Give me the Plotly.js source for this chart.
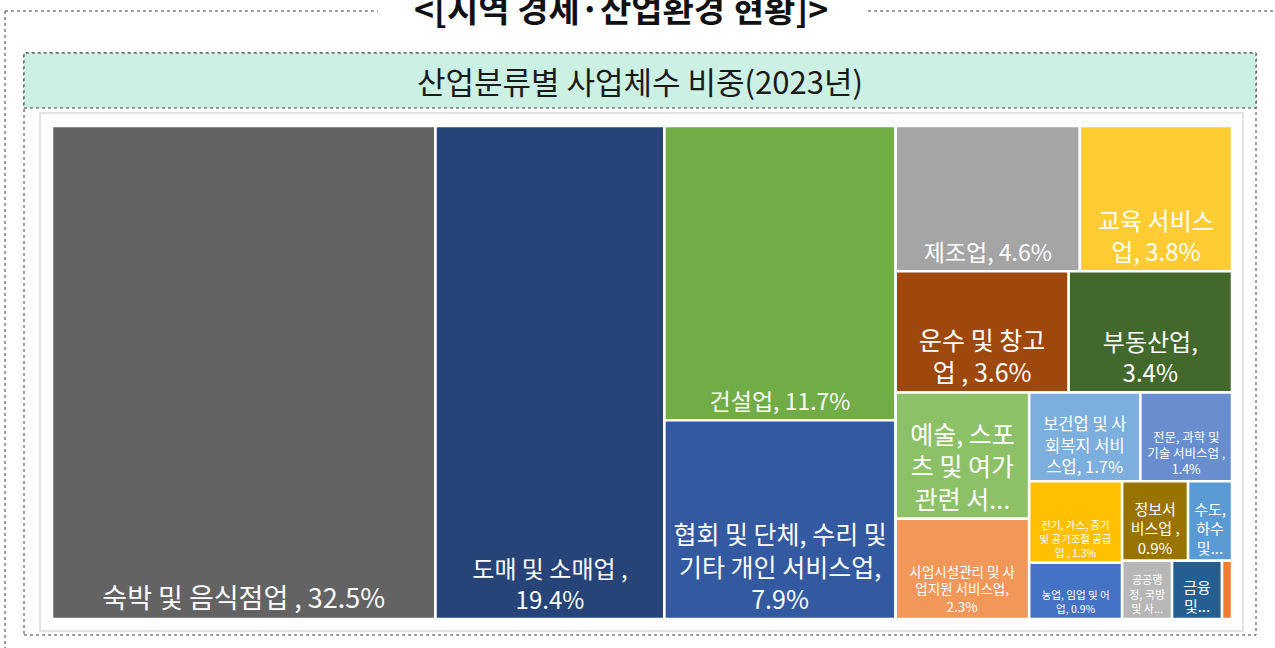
<!DOCTYPE html>
<html>
<head>
<meta charset="utf-8">
<script src="https://cdn.plot.ly/plotly-3.0.1.min.js"></script>
<style>
html,body{margin:0;padding:0;background:#fff;}
#chart{width:1275px;height:648px;}
</style>
</head>
<body>
<div id="chart"></div>
<script>
// ---------------- data ----------------
const categories = [
  "숙박 및 음식점업",
  "도매 및 소매업",
  "건설업",
  "협회 및 단체, 수리 및 기타 개인 서비스업",
  "제조업",
  "교육 서비스업",
  "운수 및 창고업",
  "부동산업",
  "예술, 스포츠 및 여가관련 서비스업",
  "사업시설관리 및 사업지원 서비스업",
  "보건업 및 사회복지 서비스업",
  "전문, 과학 및 기술 서비스업",
  "전기, 가스, 증기 및 공기조절 공급업",
  "정보서비스업",
  "수도, 하수 및 폐기물 처리, 원료 재생업",
  "농업, 임업 및 어업",
  "공공행정, 국방 및 사회보장 행정",
  "금융 및 보험업",
  "광업"
];
const shares = [32.5, 19.4, 11.7, 7.9, 4.6, 3.8, 3.6, 3.4, 2.9, 2.3, 1.7, 1.4, 1.3, 0.9, 0.6, 0.9, 0.5, 0.5, 0.1];

// label text as shown in the picture ({v} = share)
const shownLabels = [
  "숙박 및 음식점업 , {v}%",
  "도매 및 소매업 ,<br>{v}%",
  "건설업, {v}%",
  "협회 및 단체, 수리 및<br>기타 개인 서비스업,<br>{v}%",
  "제조업, {v}%",
  "교육 서비스<br>업, {v}%",
  "운수 및 창고<br>업 , {v}%",
  "부동산업,<br>{v}%",
  "예술, 스포<br>츠 및 여가<br>관련 서...",
  "사업시설관리 및 사<br>업지원 서비스업,<br>{v}%",
  "보건업 및 사<br>회복지 서비<br>스업, {v}%",
  "전문, 과학 및<br>기술 서비스업 ,<br>{v}%",
  "전기, 가스, 증기<br>및 공기조절 공급<br>업 , {v}%",
  "정보서<br>비스업 ,<br>{v}%",
  "수도,<br>하수<br>및...",
  "농업, 임업 및 어<br>업, {v}%",
  "공공행<br>정, 국방<br>및 사...",
  "금융<br>및...",
  ""
];

const chartTitle = "&lt;[지역 경제·산업환경 현황]&gt;";
const chartSubtitle = "산업분류별 사업체수 비중(2023년)";

// ---------------- styles ----------------
const cellColors = ["#636363","#264478","#70AD47","#335AA0","#A5A5A5","#FFCC33","#9E480E","#43682B",
  "#8CC168","#F1975A","#7CAFDD","#698ED0","#FFC000","#997300","#5B9BD5","#4472C4","#B7B7B7","#255E91","#ED7D31"];
const labelSizes = [27, 24, 23, 25, 23, 24, 25, 24, 25, 13.5, 16.5, 12.5, 10.5, 15, 15, 10.5, 11, 15, 8];

// ---------------- tile arrangement (Excel-like row/column grouping) ----------------
const cellGroup = ["", "", "G1", "G1", "R1", "R1", "R2", "R2", "C1", "C1", "H1", "H1", "E1", "F1", "F1", "E1", "F2", "F2", "F2"];
const groupIds = ["G1", "G2", "R1", "R2", "R3", "C1", "C2", "H1", "H2", "E1", "E2", "F1", "F2"];
const groupParents = ["", "", "G2", "G2", "G2", "R3", "R3", "C2", "C2", "H2", "H2", "E2", "E2"];

// ---------------- build ----------------
const W = 1275, H = 648;
const px = x => x / W;
const py = y => 1 - y / H;

const ids = categories.concat(groupIds);
const labels = categories.concat(groupIds);
const parents = cellGroup.concat(groupParents);
const values = shares.concat(groupIds.map(() => 0));
const texts = shownLabels.map((t, i) => t.replace("{v}", shares[i].toFixed(1))).concat(groupIds.map(() => ""));
const colors = cellColors.concat(groupIds.map(() => "rgba(0,0,0,0)"));
const sizes = labelSizes.concat(groupIds.map(() => 10));

const trace = {
  type: "treemap",
  ids: ids,
  labels: labels,
  parents: parents,
  values: values,
  branchvalues: "remainder",
  sort: false,
  text: texts,
  textinfo: "text",
  textposition: "bottom center",
  textfont: {family: "Noto Sans CJK KR, sans-serif", color: "#FFFFFF", size: sizes},
  hoverinfo: "none",
  marker: {
    colors: colors,
    line: {color: "#FFFFFF", width: 2.5},
    pad: {t: 0, l: 0, r: 0, b: 0},
    depthfade: false
  },
  leaf: {opacity: 1},
  tiling: {packing: "slice-dice", pad: 0},
  pathbar: {visible: false},
  domain: {x: [px(52), px(1232)], y: [py(619), py(126)]}
};

const dotLine = {color: "#404040", width: 1, dash: "dot"};
const layout = {
  width: W, height: H,
  margin: {l: 0, r: 0, t: 0, b: 0},
  paper_bgcolor: "#FFFFFF",
  showlegend: false,
  font: {family: "Noto Sans CJK KR, sans-serif"},
  shapes: [
    // outer frame
    {type: "line", xref: "paper", yref: "paper", x0: px(5), x1: px(378), y0: py(11), y1: py(11), line: dotLine, layer: "below"},
    {type: "line", xref: "paper", yref: "paper", x0: px(868), x1: px(1275), y0: py(11), y1: py(11), line: dotLine, layer: "below"},
    {type: "line", xref: "paper", yref: "paper", x0: px(5), x1: px(5), y0: py(11), y1: py(648), line: dotLine, layer: "below"},
    // inner frame
    {type: "rect", xref: "paper", yref: "paper", x0: px(24), x1: px(1256), y0: py(635), y1: py(53), line: dotLine, fillcolor: "rgba(0,0,0,0)", layer: "below"},
    // banner
    {type: "rect", xref: "paper", yref: "paper", x0: px(24), x1: px(1256), y0: py(108), y1: py(53), line: dotLine, fillcolor: "#CCF0E3", layer: "below"},
    // chart area
    {type: "rect", xref: "paper", yref: "paper", x0: px(40), x1: px(1243), y0: py(631), y1: py(113), line: {color: "#D9D9D9", width: 1.5}, fillcolor: "#FFFFFF", layer: "below"}
  ],
  annotations: [
    {xref: "paper", yref: "paper", x: px(621), y: py(7), xanchor: "center", yanchor: "middle", showarrow: false,
     text: "<b>" + chartTitle + "</b>", font: {size: 34, color: "#111111", family: "Noto Sans CJK KR, sans-serif"}},
    {xref: "paper", yref: "paper", x: px(640), y: py(80), xanchor: "center", yanchor: "middle", showarrow: false,
     text: chartSubtitle, font: {size: 31, color: "#1A1A1A", family: "Noto Sans CJK KR, sans-serif"}}
  ]
};

Plotly.newPlot("chart", [trace], layout, {displayModeBar: false, staticPlot: true});
</script>
</body>
</html>
